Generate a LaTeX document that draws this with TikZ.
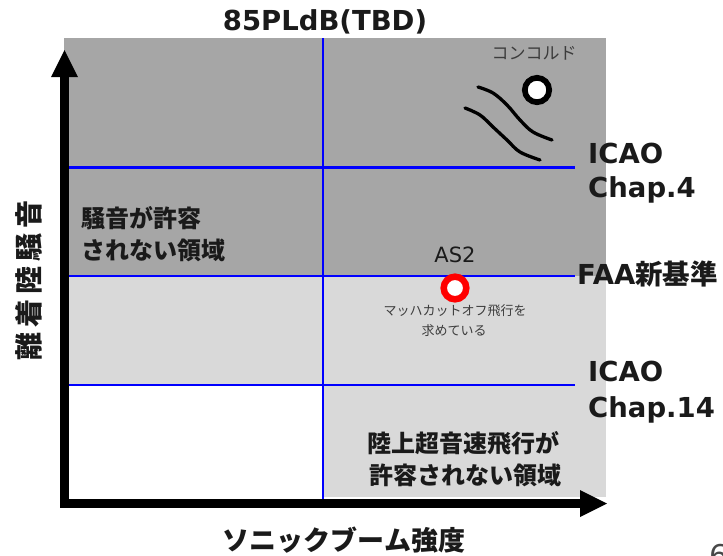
\documentclass[tikz,border=0pt]{standalone}
\usepackage{fontspec}
\setmainfont{DejaVu Sans}
\newfontfamily\jp{Noto Sans CJK JP}
\usetikzlibrary{arrows.meta}
\definecolor{darkbg}{HTML}{A6A6A6}
\definecolor{lightbg}{HTML}{D9D9D9}
\definecolor{txt}{HTML}{1A1A1A}
\definecolor{guideblue}{HTML}{0000FF}
\definecolor{ringred}{HTML}{FF0000}
\begin{document}
\begin{tikzpicture}[x=1pt,y=-1pt,
  guide/.style={draw=guideblue, line width=2.5pt},
  axisline/.style={line width=9pt, line join=miter,
    {Triangle[width=27pt,length=27pt,line width=0pt]}-{Triangle[width=27pt,length=27pt,line width=0pt]}},
  latlbl/.style={inner sep=0, text=txt, font=\fontsize{27.5}{33}\selectfont\bfseries},
  jplbl/.style={inner sep=0, text=txt, font=\jp\bfseries\fontsize{24}{30}\selectfont},
  smalljp/.style={inner sep=0, text=txt!85, font=\jp\fontsize{13}{16}\selectfont},
  ring/.style={circle, inner sep=0, fill=white},
  wave/.style={line width=3.3pt, line cap=round}
]
\useasboundingbox (0,0) rectangle (723,555);

% regions
\fill[darkbg] (64,38) rectangle (606,276);
\fill[lightbg] (64,276) rectangle (606,385);
\fill[lightbg] (323,385) rectangle (606,497);

% blue guide lines
\coordinate (vtop) at (323,38);
\coordinate (vbot) at (323,499);
\coordinate (h1l) at (69,167.5); \coordinate (h1r) at (575,167.5);
\coordinate (h2l) at (69,276);   \coordinate (h2r) at (575,276);
\coordinate (h3l) at (69,385);   \coordinate (h3r) at (575,385);
\draw[guide] (vtop) -- (vbot);
\draw[guide] (h1l) -- (h1r);
\draw[guide] (h2l) -- (h2r);
\draw[guide] (h3l) -- (h3r);

% axes
\coordinate (ytip) at (64.5,50);
\coordinate (orig) at (64.5,503.5);
\coordinate (xtip) at (607,503.5);
\draw[axisline] (ytip) -- (orig) -- (xtip);

% labels
\node[latlbl, anchor=base] (plbl) at (325,30) {85PLdB(TBD)};
\node[latlbl, anchor=base west] (icao4a) at (588,163) {ICAO};
\node[latlbl, anchor=base west] (icao4b) at (588,197) {Chap.4};
\node[latlbl, anchor=base west] (faa) at (577,284) {FAA{\jp\bfseries 新基準}};
\node[latlbl, anchor=base west] (icao14a) at (588,381) {ICAO};
\node[latlbl, anchor=base west] (icao14b) at (588,417) {Chap.14};

\node[jplbl, anchor=west] (noisea) at (81,218) {騒音が許容};
\node[jplbl, anchor=west] (noiseb) at (81,250) {されない領域};
\node[jplbl] (landa) at (463,443) {陸上超音速飛行が};
\node[jplbl] (landb) at (465,475) {許容されない領域};

\node[inner sep=0, text=txt, rotate=90, font=\jp\bfseries\fontsize{28}{30}\selectfont]
  (ylbl) at (29,280) {離\kern5pt 着\kern5pt 陸\kern5pt 騒\kern5pt 音};
\node[inner sep=0, text=txt, font=\jp\bfseries\fontsize{27}{30}\selectfont]
  (xlbl) at (344,540) {ソニックブーム強度};

% AS2
\node[inner sep=0, text=txt, font=\fontsize{21}{24}\selectfont, anchor=base] (as2lbl) at (455,262) {AS2};
\node[ring, draw=ringred, line width=6.5pt, minimum size=22.6pt] (as2) at (455,288) {};
\node[smalljp] (macha) at (455,311) {マッハカットオフ飛行を};
\node[smalljp] (machb) at (454,331) {求めている};

% Concorde
\node[inner sep=0, text=txt!85, font=\jp\fontsize{17}{20}\selectfont] (conclbl) at (534,53) {コンコルド};
\node[ring, draw=black, line width=5.7pt, minimum size=24.4pt] (conc) at (537,90) {};
\draw[wave] plot[smooth, tension=0.6] coordinates {(478,87) (493,93) (507,105) (520,120) (533,132) (552,140)};
\draw[wave] plot[smooth, tension=0.6] coordinates {(465,108) (480,115) (493,127) (507,140) (520,152) (540,160)};

% page number (cut off at the edge, as in the reference)
\node[inner sep=0, text=txt!80, font=\fontsize{30}{32}\selectfont, anchor=base west] (pnum) at (709,566) {6};
\end{tikzpicture}
\end{document}
